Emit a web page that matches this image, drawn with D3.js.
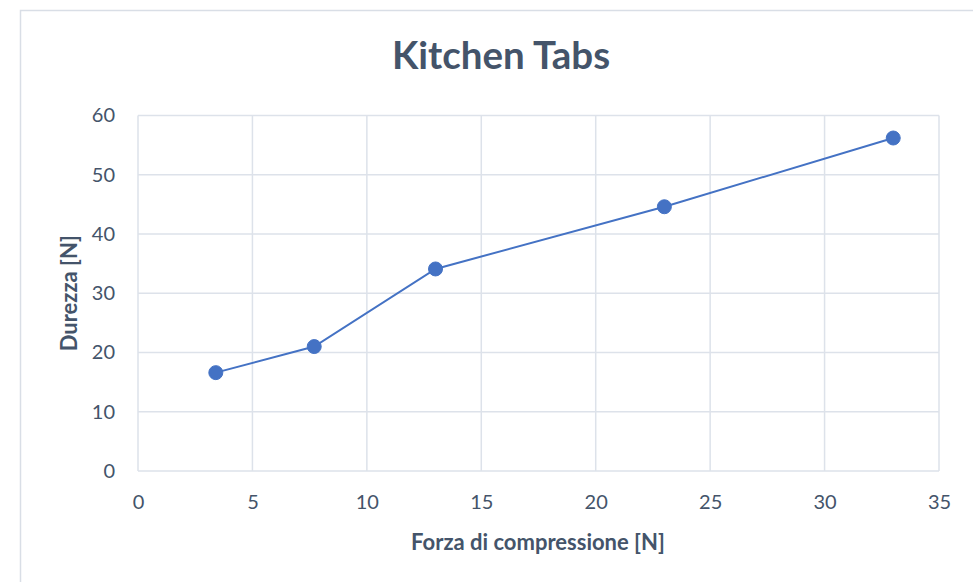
<!DOCTYPE html>
<html>
<head>
<meta charset="utf-8">
<script src="https://cdn.jsdelivr.net/npm/d3@7"></script>
<style>
  html, body { margin: 0; padding: 0; background: #fff; }
  svg { display: block; }
  text { font-family: Lato, "Open Sans", sans-serif; fill: #44546A; }
</style>
</head>
<body>
<svg id="chart" width="973" height="582"></svg>
<script>
// Compression force (x) vs hardness (y)
const chartTitle = "Kitchen Tabs";
const xTitle = "Forza di compressione [N]";
const yTitle = "Durezza [N]";
const forza = [3.4, 7.7, 13.0, 23.0, 33.0];
const durezza = [16.6, 21.0, 34.1, 44.6, 56.2];
const xTicks = [0, 5, 10, 15, 20, 25, 30, 35];
const yTicks = [0, 10, 20, 30, 40, 50, 60];

const svg = d3.select("#chart");
const plot = { left: 138, right: 939, top: 115.5, bottom: 471 };

// Outer chart frame
svg.append("rect")
  .attr("x", 20.5).attr("y", 10.5)
  .attr("width", 1000).attr("height", 700)
  .attr("fill", "#fff")
  .attr("stroke", "#D9DEE6").attr("stroke-width", 1.5);

const x = d3.scaleLinear().domain([0, 35]).range([plot.left, plot.right]);
const y = d3.scaleLinear().domain([0, 60]).range([plot.bottom, plot.top]);

// Gridlines
const grid = svg.append("g").attr("stroke", "#DDE2EA").attr("stroke-width", 1.5);
grid.selectAll("line.v").data(xTicks).join("line")
  .attr("x1", d => x(d)).attr("x2", d => x(d))
  .attr("y1", plot.top).attr("y2", plot.bottom);
grid.selectAll("line.h").data(yTicks).join("line")
  .attr("x1", plot.left).attr("x2", plot.right)
  .attr("y1", d => y(d)).attr("y2", d => y(d));

// Axes (labels only, lines come from the grid)
const xAxis = svg.append("g")
  .attr("transform", `translate(0,${plot.bottom})`)
  .call(d3.axisBottom(x).tickValues(xTicks).tickSize(0).tickPadding(22));
const yAxis = svg.append("g")
  .attr("transform", `translate(${plot.left},0)`)
  .call(d3.axisLeft(y).tickValues(yTicks).tickSize(0).tickPadding(22));
[xAxis, yAxis].forEach(a => {
  a.select(".domain").remove();
  a.selectAll("text")
    .attr("font-family", "Lato, 'Open Sans', sans-serif")
    .attr("font-size", 20)
    .attr("fill", "#44546A");
});
xAxis.selectAll("text").attr("dy", "0.71em").attr("y", 24);
yAxis.selectAll("text").attr("x", -23);

// Series line and markers
const pts = forza.map((f, i) => [f, durezza[i]]);
svg.append("path")
  .datum(pts)
  .attr("fill", "none")
  .attr("stroke", "#4472C4")
  .attr("stroke-width", 2)
  .attr("d", d3.line().x(d => x(d[0])).y(d => y(d[1])));
svg.selectAll("circle.pt").data(pts).join("circle")
  .attr("class", "pt")
  .attr("cx", d => x(d[0])).attr("cy", d => y(d[1]))
  .attr("r", 7)
  .attr("fill", "#4472C4")
  .attr("stroke", "#4472C4").attr("stroke-width", 1);

// Titles
svg.append("text")
  .attr("x", 501).attr("y", 69)
  .attr("text-anchor", "middle")
  .attr("font-size", 38.5).attr("font-weight", "bold")
  .text(chartTitle);
svg.append("text")
  .attr("x", 538).attr("y", 550)
  .attr("text-anchor", "middle")
  .attr("font-size", 22).attr("font-weight", "bold")
  .text(xTitle);
svg.append("text")
  .attr("transform", `translate(77,${(plot.top + plot.bottom) / 2}) rotate(-90)`)
  .attr("text-anchor", "middle")
  .attr("font-size", 22).attr("font-weight", "bold")
  .text(yTitle);
</script>
</body>
</html>
